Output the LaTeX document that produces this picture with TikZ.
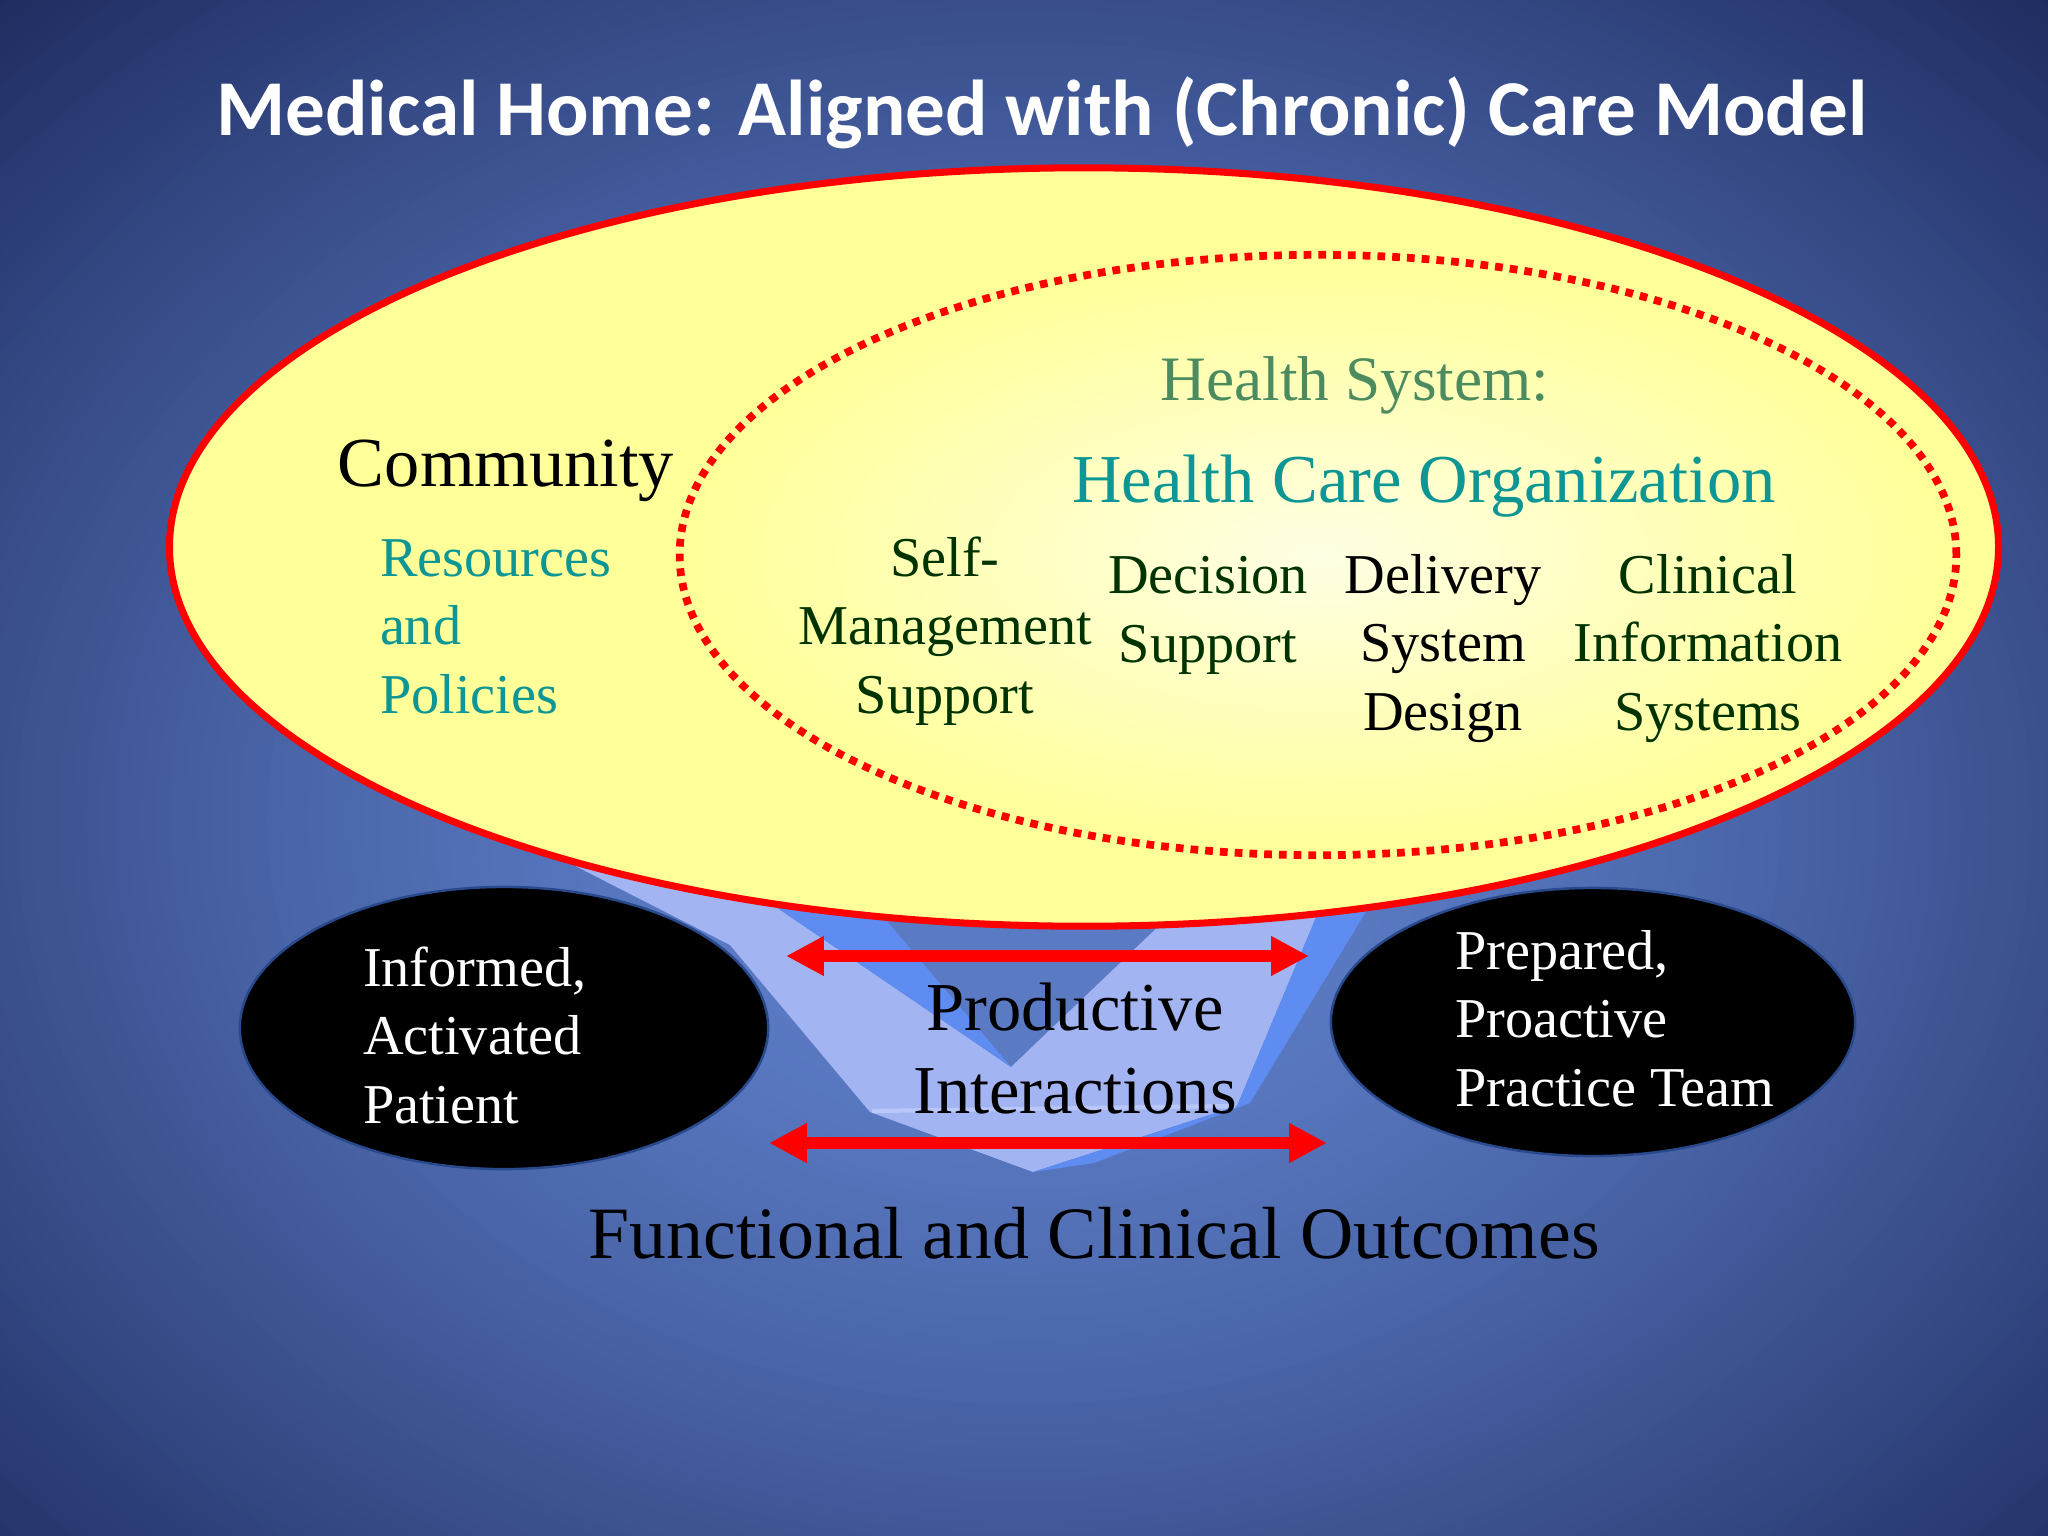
\documentclass[tikz,border=0pt]{standalone}
\usepackage{fontspec}
\setmainfont{Liberation Serif}
\newfontfamily\titlefont{Carlito}
\usetikzlibrary{shapes.geometric,arrows.meta}
\definecolor{bgc0}{HTML}{5A7AC3}
\definecolor{bgc3}{HTML}{1F2C60}
\definecolor{yel}{HTML}{FFFF99}
\definecolor{yelin}{HTML}{FFFFE4}
\definecolor{hsgreen}{HTML}{4B8B5F}
\definecolor{ccteal}{HTML}{0E9694}
\definecolor{dkgreen}{HTML}{003300}
\definecolor{vlight}{HTML}{A3B4F2}
\definecolor{vledge}{HTML}{B9C7FA}
\definecolor{vbright}{HTML}{5F8CF0}
\definecolor{blackedge}{HTML}{284A8C}
\tikzset{
  lbl/.style={inner sep=0pt, outer sep=0pt, anchor=base},
  lblw/.style={inner sep=0pt, outer sep=0pt, anchor=base west},
  body/.style={font=\fontsize{16}{19.35}\selectfont},
  redarrow/.style={draw=red, line width=3.6pt,
    {Triangle[length=10.8pt,width=10.6pt]}-{Triangle[length=10.8pt,width=10.6pt]}},
  blackoval/.style={ellipse, fill=black, draw=blackedge, line width=0.7pt, inner sep=0pt},
}
\begin{document}
\begin{tikzpicture}[x=0.01cm, y=-0.01cm]
\useasboundingbox (0,0) rectangle (2048,1536);
% background vignette
\begin{scope}
\clip (0,0) rectangle (2048,1536);
\foreach \i in {0,...,100} {
  \pgfmathsetmacro{\tt}{1.5-\i*0.0136}
  \pgfmathsetmacro{\ss}{max(0,min(1,(\tt-0.3)/1.15))}
  \pgfmathsetmacro{\pp}{100*(1-\ss^1.3)}
  \pgfmathsetmacro{\rx}{\tt*10.24}
  \pgfmathsetmacro{\ry}{\tt*7.9}
  \fill[bgc0!\pp!bgc3] (1024,820) ellipse [x radius=\rx cm, y radius=\ry cm];
}
\end{scope}
% V chevron
\fill[vlight] (505,830) -- (730,945) -- (870,1112) -- (1033,1172) -- (1237,1106) -- (1340,860) -- (1207,880) -- (1011,1067) -- (707,860) -- cycle;
\fill[vbright] (1033,1172) -- (1094,1163) -- (1250,1103) -- (1370,905) -- (1440,850) -- (1340,860) -- (1237,1106) -- cycle;
\fill[vbright] (707,860) -- (835,860) -- (1011,1067) -- cycle;
\draw[vledge, line width=1.2pt] (872,1111) -- (1235,1106);
% outer ellipse (community)
\node[ellipse, draw=red, line width=2pt, fill=yel, minimum width=18.28cm, minimum height=7.58cm, inner sep=0pt] (community) at (1084,547) {};
% inner ellipse (health system)
\node[ellipse, inner color=yelin, outer color=yel, draw=red, line width=2.2pt, dash pattern=on 2.2pt off 2pt, minimum width=12.76cm, minimum height=6.0cm, inner sep=0pt] (healthsys) at (1318,555) {};
% black ovals
\node[blackoval, minimum width=5.28cm, minimum height=2.82cm] (patient) at (504,1028) {};
\node[blackoval, minimum width=5.24cm, minimum height=2.68cm] (team) at (1593,1022) {};
% arrows
\coordinate (a1l) at (786,956);
\coordinate (a1r) at (1309,956);
\coordinate (a2l) at (769,1143);
\coordinate (a2r) at (1327,1143);
\draw[redarrow] (a1l) -- (a1r);
\draw[redarrow] (a2l) -- (a2r);
% texts
\node[lbl, text=white, font=\titlefont\bfseries\fontsize{22.5}{27}\selectfont] (title) at (1042,135) {Medical Home: Aligned with (Chronic) Care Model};
\node[lbl, font=\fontsize{20}{24}\selectfont] (commtxt) at (506,486) {Community};
\node[lblw, body, align=left, text=ccteal] (resources) at (380,713) {Resources\\and\\Policies};
\node[lbl, text=hsgreen, font=\fontsize{18}{21.6}\selectfont] (hstxt) at (1355,400) {Health System:};
\node[lbl, text=ccteal, font=\fontsize{19.5}{23.4}\selectfont] (hco) at (1424,502) {Health Care Organization};
\node[lbl, body, align=center, text=dkgreen] (selfmgmt) at (945,713) {Self-\\Management\\Support};
\node[lbl, body, align=center, text=dkgreen] (decision) at (1208,662) {Decision\\Support};
\node[lbl, body, align=center, text=black] (delivery) at (1443,730) {Delivery\\System\\Design};
\node[lbl, body, align=center, text=dkgreen] (clinical) at (1708,730) {Clinical\\Information\\Systems};
\node[lblw, body, align=left, text=white] (patienttxt) at (363,1123) {Informed,\\Activated\\Patient};
\node[lblw, body, align=left, text=white] (teamtxt) at (1455,1106) {Prepared,\\Proactive\\Practice Team};
\node[lbl, align=center, font=\fontsize{19.5}{23.6}\selectfont] (prodint) at (1075,1113) {Productive\\Interactions};
\node[lbl, font=\fontsize{21}{25}\selectfont] (outcomes) at (1094,1258) {Functional and Clinical Outcomes};
\end{tikzpicture}
\end{document}
